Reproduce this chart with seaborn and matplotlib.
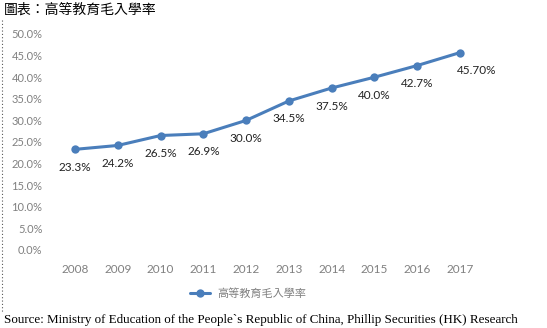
import matplotlib
matplotlib.use("Agg")
import matplotlib.pyplot as plt
import seaborn as sns
import pandas as pd
from matplotlib.lines import Line2D

years = ["2008", "2009", "2010", "2011", "2012", "2013", "2014", "2015", "2016", "2017"]
rates = [23.3, 24.2, 26.5, 26.9, 30.0, 34.5, 37.5, 40.0, 42.7, 45.7]
labels = ["23.3%", "24.2%", "26.5%", "26.9%", "30.0%", "34.5%", "37.5%", "40.0%", "42.7%", "45.70%"]
series_name = "高等教育毛入學率"
title = "圖表：高等教育毛入學率"
source = "Source: Ministry of Education of the People`s Republic of China, Phillip Securities (HK) Research"

sns.set_theme(style="white")
plt.rcParams['font.family'] = ['Lato', 'Noto Sans CJK TC', 'DejaVu Sans']

df = pd.DataFrame({"year": years, "rate": rates, "x": range(len(years))})

fig = plt.figure(figsize=(5.47, 3.28), dpi=100)
ax = fig.add_axes([53.6/547, 78/328, (481.4-53.6)/547, (294-78)/328])
blue = "#4A7EBB"
sns.lineplot(data=df, x="x", y="rate", ax=ax, color=blue, linewidth=2.2,
             marker="o", markersize=6, markeredgewidth=0, label=series_name)

for i, (r, t) in enumerate(zip(rates, labels)):
    dx = 12 if i == len(rates) - 1 else 0
    ax.annotate(t, (i, r), xytext=(dx, -9), textcoords="offset points",
                ha="center", va="top", fontsize=8.5, color="#222222")

ax.set_xlim(-0.5, len(years) - 0.5)
ax.set_ylim(0, 50)
ax.set_xticks(range(len(years)))
ax.set_xticklabels(years)
ax.set_yticks([i * 5 for i in range(11)])
ax.set_yticklabels([f"{v:.1f}%" for v in [i * 5 for i in range(11)]])
ax.tick_params(axis="both", colors="#808080", length=0)
ax.tick_params(axis="x", pad=10, labelsize=8.5)
ax.tick_params(axis="y", pad=8, labelsize=8)
ax.set_xlabel("")
ax.set_ylabel("")
for s in ax.spines.values():
    s.set_visible(False)

leg = ax.legend(loc="upper center", bbox_to_anchor=(0.455, -0.13), frameon=False,
                handlelength=1.8, handletextpad=0.6,
                prop={'family': ['Noto Sans CJK TC', 'DejaVu Sans'], 'size': 8})
for t in leg.get_texts():
    t.set_color("#808080")

fig.text(4/547, 1 - 10/328, title, fontsize=10, ha="left", va="center",
         family=['Noto Sans CJK TC', 'DejaVu Sans'], color="black", weight="medium")
fig.text(4/547, 1 - 320/328, source, fontsize=9.4, ha="left", va="center",
         family=['Liberation Serif'], color="black")

fig.add_artist(Line2D([2/547, 2/547], [1 - 20/328, 1 - 312/328], transform=fig.transFigure,
                      color="#555555", linestyle=(0, (1, 2)), linewidth=0.8))

fig.savefig("out.png", dpi=100, facecolor="white")
